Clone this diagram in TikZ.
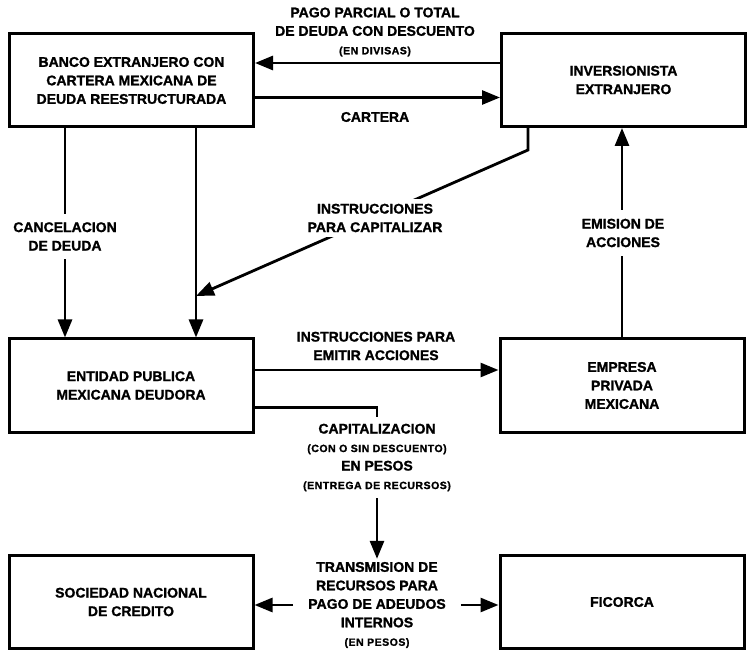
\documentclass[tikz,border=0pt]{standalone}
\usepackage{fontspec}
\setmainfont[BoldFeatures={FakeBold=1.3}]{Liberation Sans}
\newfontfamily\notefont[LetterSpace=5, BoldFeatures={FakeBold=1.3}]{Liberation Sans}
\usepackage{tikz}
\usetikzlibrary{arrows.meta,positioning}
\newcommand{\smalltxt}[1]{{\notefont\bfseries\fontsize{10.5}{18.5}\selectfont #1}}
\tikzset{
  box/.style  ={rectangle, draw=black, line width=3pt, align=center,
                minimum width=244pt, minimum height=93pt,
                font=\bfseries\fontsize{14}{18.5}\selectfont},
  flow/.style ={-{Triangle[length=18pt,width=14pt]}, line width=2.8pt},
  lbl/.style  ={fill=white, align=center, inner xsep=3pt, inner ysep=5pt,
                font=\bfseries\fontsize{14}{18.5}\selectfont},
}

\begin{document}
\begin{tikzpicture}[x=1pt, y=-1pt]
    \useasboundingbox (0,0) rectangle (750,652);

    \node[box] (banco) at (131.5,80.5) {BANCO EXTRANJERO CON\\CARTERA MEXICANA DE\\DEUDA REESTRUCTURADA};
    \node[box] (inver) at (623.5,80) {INVERSIONISTA\\EXTRANJERO};
    \node[box] (entidad) at (131,385.5) {ENTIDAD PUBLICA\\MEXICANA DEUDORA};
    \node[box] (empresa) at (622,385.5) {EMPRESA\\PRIVADA\\MEXICANA};
    \node[box] (sociedad) at (131,602) {SOCIEDAD NACIONAL\\DE CREDITO};
    \node[box] (ficorca) at (622,602) {FICORCA};

    \node[lbl, fill=none, inner xsep=15pt, inner ysep=3pt] (trans) at (377,605)
        {TRANSMISION DE\\RECURSOS PARA\\PAGO DE ADEUDOS\\INTERNOS\\\smalltxt{(EN PESOS)}};

    \coordinate (join) at (196,296);

    \draw[flow] ([yshift=17pt]inver.west) -- ([yshift=17pt]inver.west -| banco.east);
    \draw[flow] ([yshift=-17pt]banco.east) -- ([yshift=-17pt]banco.east -| inver.west);
    \draw[flow] ([xshift=-66.5pt]banco.south) -- ([xshift=-66.5pt]banco.south |- entidad.north);
    \draw[flow] ([xshift=64.5pt]banco.south) -- ([xshift=64.5pt]banco.south |- entidad.north);
    \draw[flow] ([xshift=-95.5pt]inver.south) -- ++(0,22) -- (join);
    \draw[flow] (empresa.north) -- (empresa.north |- inver.south);
    \draw[flow] ([yshift=15.5pt]entidad.east) -- ([yshift=15.5pt]entidad.east -| empresa.west);
    \draw[flow] ([yshift=-22pt]entidad.east) -| (trans.north);
    \draw[flow] (trans.west) -- (trans.west -| sociedad.east);
    \draw[flow] (trans.east) -- (trans.east -| ficorca.west);

    \node[lbl, fill=none] (pago) at (375,32)
        {PAGO PARCIAL O TOTAL\\DE DEUDA CON DESCUENTO\\\smalltxt{(EN DIVISAS)}};
    \node[lbl, fill=none] (cartera) at (375,117) {CARTERA};
    \node[lbl, inner ysep=8pt] (cancel) at (65,236.5) {CANCELACION\\DE DEUDA};
    \node[lbl] (instcap) at (375,218) {INSTRUCCIONES\\PARA CAPITALIZAR};
    \node[lbl, inner ysep=9pt] (emision) at (623,233) {EMISION DE\\ACCIONES};
    \node[lbl, fill=none] (instemit) at (376,346) {INSTRUCCIONES PARA\\EMITIR ACCIONES};
    \node[lbl, inner ysep=7pt] (capital) at (377,457.5)
        {CAPITALIZACION\\\smalltxt{(CON O SIN DESCUENTO)}\\EN PESOS\\\smalltxt{(ENTREGA DE RECURSOS)}};
\end{tikzpicture}
\end{document}
